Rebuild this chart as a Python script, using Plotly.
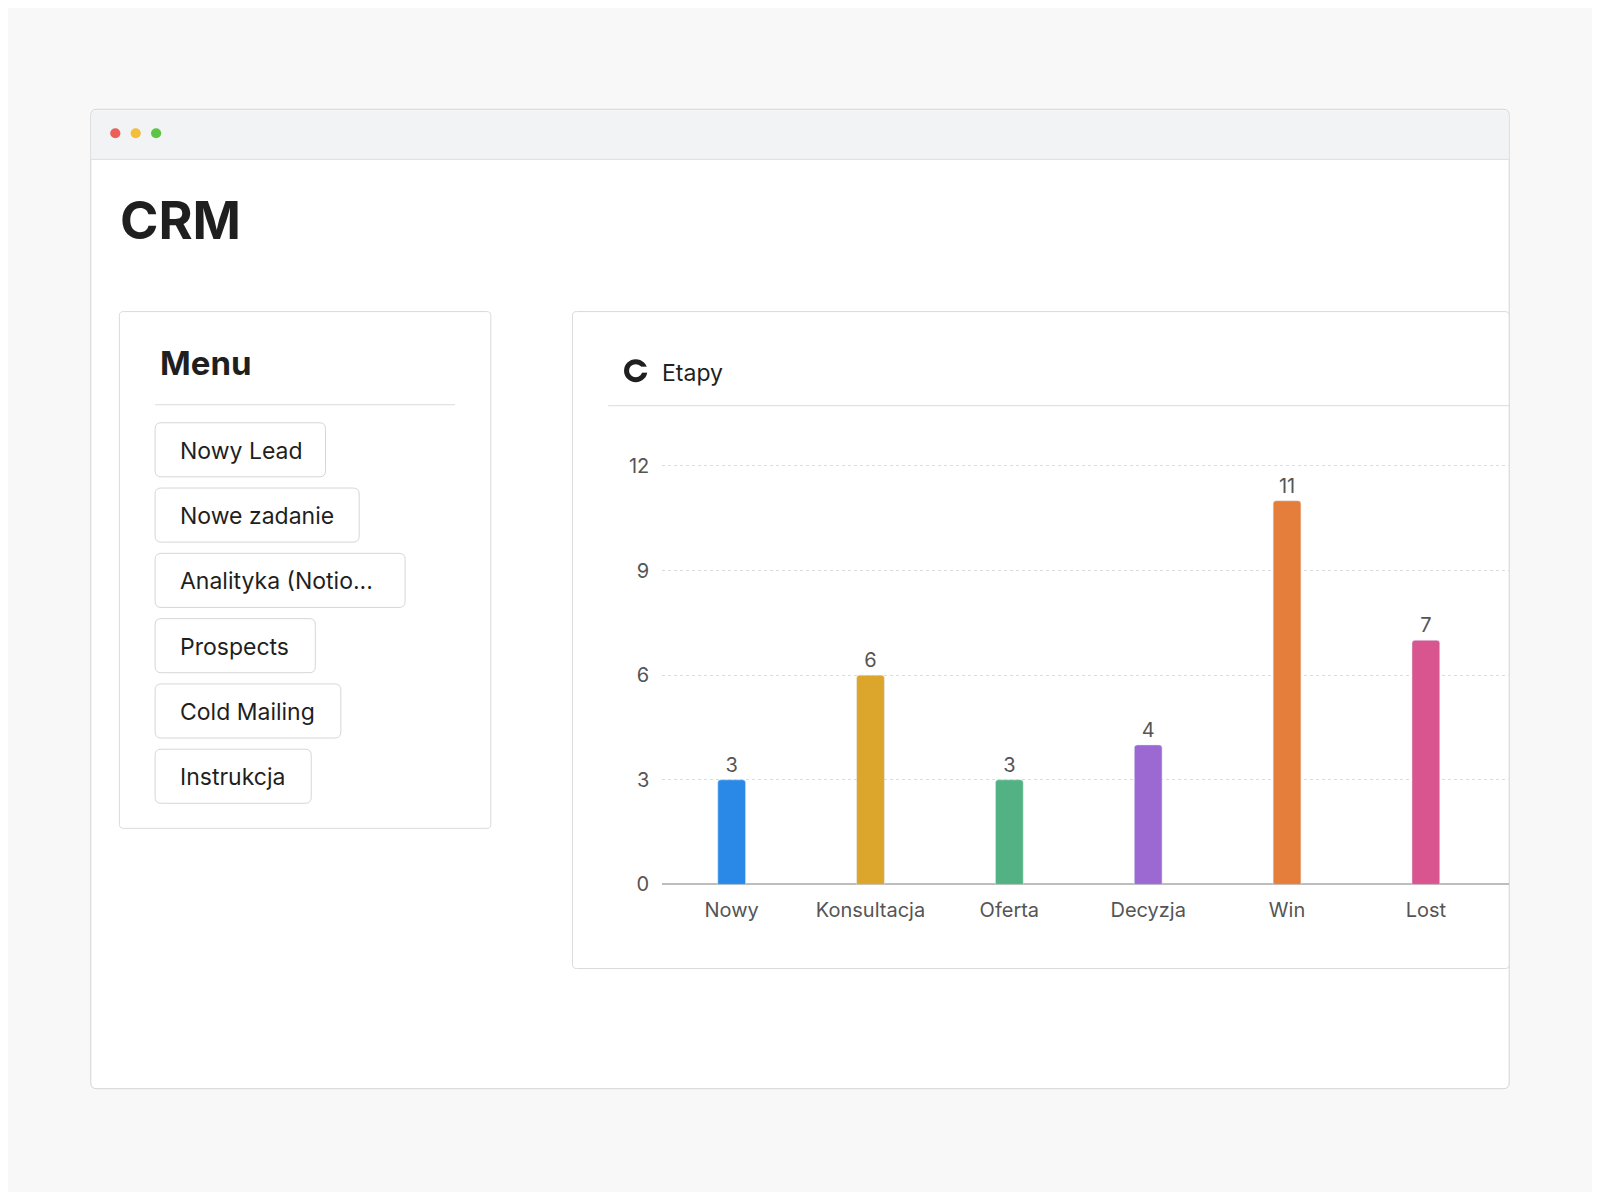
import plotly.graph_objects as go

stages = ["Nowy", "Konsultacja", "Oferta", "Decyzja", "Win", "Lost"]
counts = [3, 6, 3, 4, 11, 7]
colors = ["#2a89e6", "#dca52b", "#52b283", "#9b69d1", "#e57d3b", "#d8558f"]
menu_items = ["Nowy Lead", "Nowe zadanie", "Analityka (Notio...", "Prospects", "Cold Mailing", "Instrukcja"]
menu_widths = [167, 200, 245, 157, 182, 153]

FW, FH = 1584, 1184
FONT = "Inter, Roboto, sans-serif"


def px(x):
    return (x * 1600 / 1568 - 8) / FW


def py(y):
    return 1 - (y * 1200 / 1176 - 8) / FH


def rrect(x0, y0, x1, y1, r, fill, line, lw=1):
    p = (f"M {px(x0+r)} {py(y0)} L {px(x1-r)} {py(y0)} Q {px(x1)} {py(y0)} {px(x1)} {py(y0+r)} "
         f"L {px(x1)} {py(y1-r)} Q {px(x1)} {py(y1)} {px(x1-r)} {py(y1)} "
         f"L {px(x0+r)} {py(y1)} Q {px(x0)} {py(y1)} {px(x0)} {py(y1-r)} "
         f"L {px(x0)} {py(y0+r)} Q {px(x0)} {py(y0)} {px(x0+r)} {py(y0)} Z")
    return dict(type="path", xref="paper", yref="paper", path=p, fillcolor=fill,
                line=dict(color=line, width=lw), layer="below")


shapes = []
# window
shapes.append(rrect(89, 99, 1479, 1077, 6, "white", "#d4d4d4"))
shapes.append(dict(type="path", xref="paper", yref="paper", layer="below",
                   path=f"M {px(90)} {py(149)} L {px(90)} {py(105)} Q {px(90)} {py(100)} {px(95)} {py(100)} "
                        f"L {px(1473)} {py(100)} Q {px(1478)} {py(100)} {px(1478)} {py(105)} L {px(1478)} {py(149)} Z",
                   fillcolor="#f2f3f5", line=dict(width=0)))
shapes.append(dict(type="line", xref="paper", yref="paper", x0=px(89), x1=px(1479), y0=py(149), y1=py(149),
                   line=dict(color="#dedede", width=1), layer="below"))
for cx, c in [(113, "#ec5f57"), (133, "#f4bd3a"), (153, "#5dc544")]:
    shapes.append(dict(type="circle", xref="paper", yref="paper", x0=px(cx-5), x1=px(cx+5),
                       y0=py(118), y1=py(128), fillcolor=c, line=dict(width=0)))
# menu card
shapes.append(rrect(117, 301, 481, 817, 4, "white", "#dadada"))
shapes.append(dict(type="line", xref="paper", yref="paper", x0=px(152), x1=px(446), y0=py(394), y1=py(394),
                   line=dict(color="#dadada", width=1)))
# chart card
shapes.append(rrect(561, 301, 1479, 957, 4, "white", "#dadada"))
shapes.append(dict(type="line", xref="paper", yref="paper", x0=px(596), x1=px(1479), y0=py(395), y1=py(395),
                   line=dict(color="#dadada", width=1)))
# icon: ring with a small notch
shapes.append(dict(type="circle", xref="paper", yref="paper", x0=px(614), x1=px(632), y0=py(351), y1=py(369),
                   fillcolor="rgba(0,0,0,0)", line=dict(color="#1f1f1f", width=5)))
shapes.append(dict(type="rect", xref="paper", yref="paper", x0=px(624), x1=px(636), y0=py(356), y1=py(362),
                   fillcolor="white", line=dict(width=0)))

annotations = [
    dict(text="<b>CRM</b>", x=px(116), y=py(210), xref="paper", yref="paper", xanchor="left", yanchor="middle",
         showarrow=False, font=dict(size=52, color="#1f1f1f", family=FONT)),
    dict(text="<b>Menu</b>", x=px(155), y=py(352), xref="paper", yref="paper", xanchor="left", yanchor="middle",
         showarrow=False, font=dict(size=33, color="#1f1f1f", family=FONT)),
    dict(text="Etapy", x=px(647), y=py(362), xref="paper", yref="paper", xanchor="left", yanchor="middle",
         showarrow=False, font=dict(size=23, color="#1f1f1f", family=FONT)),
]

for i, (item, w) in enumerate(zip(menu_items, menu_widths)):
    top = 412 + i * 65.2
    shapes.append(rrect(152, top, 152 + w, top + 54, 6, "white", "#d6d6d6"))
    annotations.append(dict(text=item, x=px(174), y=py(top + 28), xref="paper", yref="paper",
                            xanchor="left", yanchor="middle", showarrow=False,
                            font=dict(size=23, color="#1f1f1f", family=FONT)))

fig = go.Figure(go.Bar(
    x=stages, y=counts, marker=dict(color=colors, cornerradius=3), width=0.2,
    text=counts, textposition="outside", cliponaxis=False,
    textfont=dict(size=20, color="#555555", family=FONT),
))

fig.update_layout(
    width=FW, height=FH, margin=dict(l=0, r=0, t=0, b=0),
    paper_bgcolor="#f8f8f8", plot_bgcolor="rgba(0,0,0,0)", showlegend=False,
    shapes=shapes, annotations=annotations,
    xaxis=dict(domain=[px(649), px(1479)], range=[-0.5, 5.6], showgrid=False, showline=False, zeroline=False,
               tickfont=dict(size=20, color="#555555", family=FONT), ticks="", ticklabelstandoff=12),
    yaxis=dict(domain=[py(873), py(453)], range=[0, 12.06], tickvals=[0, 3, 6, 9, 12],
               gridcolor="#dcdcdc", griddash="dot", zeroline=True, zerolinecolor="#bdbdbd",
               tickfont=dict(size=20, color="#555555", family=FONT), ticks="", ticklabelstandoff=12),
)

fig.write_html("out.html")
